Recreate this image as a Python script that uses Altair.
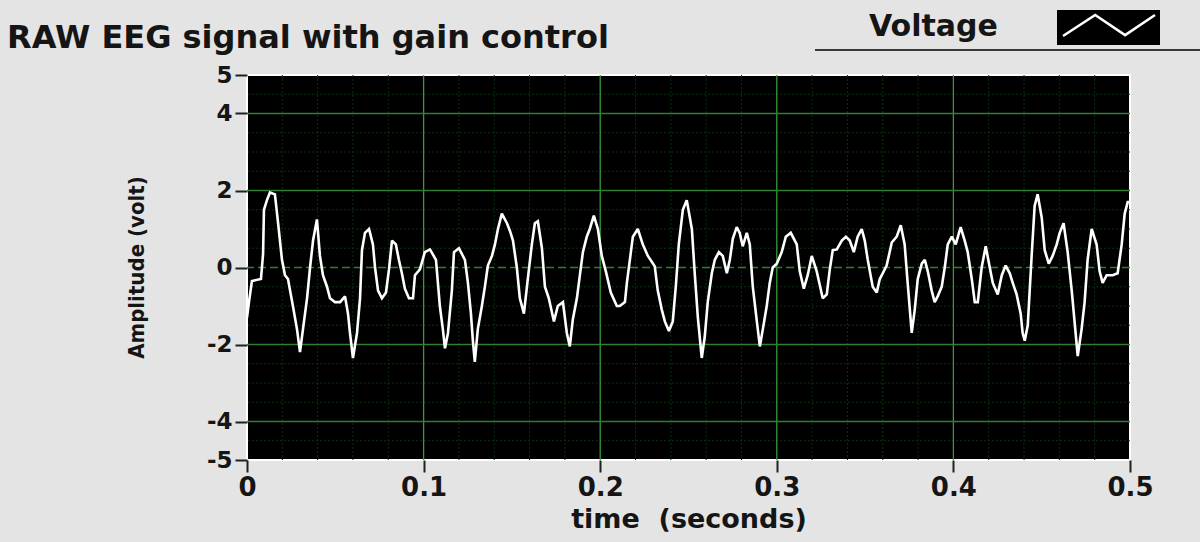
import altair as alt
import pandas as pd

# ---- signal (time in seconds, amplitude in volts) ----
time_s = [
    0.0000, 0.0011, 0.0028, 0.0079, 0.0091, 0.0096, 0.0113, 0.0130, 0.0158, 0.0175,
    0.0198, 0.0215, 0.0232, 0.0260, 0.0283, 0.0300, 0.0317, 0.0340, 0.0357, 0.0374,
    0.0396, 0.0413, 0.0430, 0.0453, 0.0470, 0.0498, 0.0527, 0.0555, 0.0572, 0.0583,
    0.0600, 0.0623, 0.0640, 0.0651, 0.0668, 0.0691, 0.0713, 0.0725, 0.0742, 0.0764,
    0.0787, 0.0804, 0.0821, 0.0843, 0.0860, 0.0877, 0.0894, 0.0917, 0.0940, 0.0951,
    0.0979, 0.1007, 0.1036, 0.1070, 0.1081, 0.1092, 0.1109, 0.1121, 0.1138, 0.1160,
    0.1172, 0.1200, 0.1234, 0.1251, 0.1268, 0.1279, 0.1290, 0.1307, 0.1330, 0.1347,
    0.1364, 0.1387, 0.1404, 0.1421, 0.1443, 0.1472, 0.1489, 0.1506, 0.1528, 0.1545,
    0.1568, 0.1590, 0.1613, 0.1630, 0.1647, 0.1670, 0.1687, 0.1709, 0.1738, 0.1760,
    0.1789, 0.1811, 0.1828, 0.1845, 0.1868, 0.1885, 0.1902, 0.1924, 0.1941, 0.1964,
    0.1987, 0.2009, 0.2032, 0.2060, 0.2094, 0.2111, 0.2140, 0.2151, 0.2168, 0.2185,
    0.2213, 0.2241, 0.2270, 0.2292, 0.2309, 0.2326, 0.2349, 0.2366, 0.2389, 0.2411,
    0.2428, 0.2445, 0.2468, 0.2490, 0.2519, 0.2536, 0.2553, 0.2575, 0.2592, 0.2609,
    0.2632, 0.2649, 0.2672, 0.2694, 0.2717, 0.2734, 0.2751, 0.2773, 0.2790, 0.2807,
    0.2830, 0.2847, 0.2864, 0.2887, 0.2904, 0.2921, 0.2943, 0.2960, 0.2977, 0.3000,
    0.3028, 0.3051, 0.3079, 0.3113, 0.3130, 0.3153, 0.3175, 0.3198, 0.3226, 0.3243,
    0.3260, 0.3283, 0.3300, 0.3317, 0.3340, 0.3368, 0.3391, 0.3413, 0.3436, 0.3458,
    0.3481, 0.3498, 0.3515, 0.3543, 0.3566, 0.3583, 0.3600, 0.3622, 0.3651, 0.3679,
    0.3702, 0.3724, 0.3741, 0.3764, 0.3781, 0.3798, 0.3821, 0.3838, 0.3855, 0.3877,
    0.3894, 0.3911, 0.3934, 0.3951, 0.3968, 0.3991, 0.4013, 0.4041, 0.4064, 0.4081,
    0.4104, 0.4121, 0.4138, 0.4160, 0.4183, 0.4206, 0.4223, 0.4251, 0.4274, 0.4296,
    0.4319, 0.4336, 0.4358, 0.4381, 0.4392, 0.4404, 0.4421, 0.4443, 0.4460, 0.4477,
    0.4500, 0.4517, 0.4540, 0.4562, 0.4585, 0.4602, 0.4624, 0.4647, 0.4670, 0.4687,
    0.4704, 0.4726, 0.4743, 0.4760, 0.4783, 0.4811, 0.4828, 0.4845, 0.4868, 0.4902,
    0.4930, 0.4953, 0.4970, 0.4987, 0.5000,
]
amplitude_v = [
    -1.3, -0.9, -0.35, -0.3, 0.35, 1.5, 1.75, 1.95, 1.9, 1.2,
    0.2, -0.2, -0.3, -1.0, -1.6, -2.2, -1.6, -0.8, 0.0, 0.7,
    1.25, 0.3, -0.2, -0.5, -0.8, -0.9, -0.9, -0.75, -1.2, -1.7,
    -2.35, -1.7, -0.8, 0.45, 0.9, 1.0, 0.6, 0.0, -0.6, -0.8,
    -0.65, -0.05, 0.7, 0.6, 0.2, -0.15, -0.55, -0.8, -0.8, -0.2,
    -0.05, 0.4, 0.47, 0.2, -0.4, -1.0, -1.6, -2.1, -1.7, -0.6,
    0.4, 0.5, 0.2, -0.4, -1.2, -1.9, -2.45, -1.6, -1.0, -0.5,
    0.05, 0.3, 0.6, 1.0, 1.4, 1.15, 0.95, 0.7, 0.0, -0.8,
    -1.2, -0.3, 0.6, 1.15, 1.2, 0.5, -0.5, -0.8, -1.4, -1.0,
    -0.9, -1.7, -2.05, -1.35, -0.8, -0.2, 0.4, 0.8, 1.0, 1.35,
    1.0, 0.3, -0.1, -0.65, -1.0, -1.0, -0.9, -0.4, 0.2, 0.8,
    1.0, 0.6, 0.3, 0.15, 0.03, -0.6, -1.1, -1.4, -1.65, -1.4,
    -0.5, 0.6, 1.5, 1.75, 1.0, -0.2, -1.3, -2.35, -1.8, -0.9,
    -0.15, 0.2, 0.4, 0.3, -0.15, 0.2, 0.75, 1.05, 0.9, 0.55,
    0.9, 0.6, -0.5, -1.4, -2.05, -1.6, -1.0, -0.4, 0.0, 0.1,
    0.4, 0.8, 0.9, 0.6, -0.1, -0.55, -0.2, 0.3, -0.1, -0.45,
    -0.8, -0.7, -0.05, 0.45, 0.47, 0.7, 0.8, 0.7, 0.4, 0.8,
    1.0, 0.7, 0.2, -0.5, -0.65, -0.3, -0.15, 0.05, 0.65, 0.8,
    1.1, 0.6, -0.4, -1.7, -1.1, -0.3, 0.1, 0.2, -0.1, -0.6,
    -0.9, -0.75, -0.5, 0.0, 0.6, 0.8, 0.6, 1.05, 0.7, 0.4,
    -0.3, -0.9, -0.9, 0.0, 0.55, 0.0, -0.4, -0.7, -0.2, 0.05,
    -0.15, -0.4, -0.7, -1.2, -1.7, -1.9, -1.5, 0.3, 1.6, 1.9,
    1.3, 0.45, 0.1, 0.3, 0.6, 0.9, 1.15, 0.4, -0.6, -1.45,
    -2.3, -1.6, -0.9, 0.2, 1.0, 0.6, -0.1, -0.4, -0.2, -0.2,
    -0.15, 0.6, 1.4, 1.7, 1.7,
]

# ---- axes / grid values ----
x_tick_values = [0, 0.1, 0.2, 0.3, 0.4, 0.5]
y_tick_values = [-5, -4, -2, 0, 2, 4, 5]
x_major_grid = [0.1, 0.2, 0.3, 0.4]
x_minor_grid = [0.02, 0.04, 0.06, 0.08, 0.12, 0.14, 0.16, 0.18, 0.22, 0.24, 0.26, 0.28,
                0.32, 0.34, 0.36, 0.38, 0.42, 0.44, 0.46, 0.48]
y_major_grid = [-4, -2, 2, 4]
y_zero_grid = [0]
y_minor_grid = [-4.5, -3.5, -3, -2.5, -1.5, -1, -0.5, 0.5, 1, 1.5, 2.5, 3, 3.5, 4.5]

title_text = ["RAW EEG signal with gain control"]
legend_text = ["Voltage"]
y_title_text = ["Amplitude (volt)"]

FONT = "DejaVu Sans"

xs = alt.Scale(domain=[0, 0.5], nice=False, zero=False)
ys = alt.Scale(domain=[-5, 5], nice=False, zero=False)

x_axis = alt.Axis(values=x_tick_values, labelExpr="datum.value + ''",
                  title="time\u00a0 (seconds)", labelFlush=False, labelOverlap=False)
y_axis = alt.Axis(values=y_tick_values, labelExpr="datum.value + ''", title=None,
                  labelFlush=False, labelOverlap=False)

sig = pd.DataFrame({"t": time_s, "v": amplitude_v})

minor_v = alt.Chart(pd.DataFrame({"t": x_minor_grid})).mark_rule(
    color="#0b300d", strokeWidth=1, strokeDash=[2, 2]
).encode(x=alt.X("t:Q", scale=xs, axis=x_axis))

minor_h = alt.Chart(pd.DataFrame({"v": y_minor_grid})).mark_rule(
    color="#0b300d", strokeWidth=1, strokeDash=[2, 2]
).encode(y=alt.Y("v:Q", scale=ys, axis=y_axis))

major_v = alt.Chart(pd.DataFrame({"t": x_major_grid})).mark_rule(
    color="#3a9a3a", strokeWidth=1.3
).encode(x=alt.X("t:Q", scale=xs, axis=x_axis))

major_h = alt.Chart(pd.DataFrame({"v": y_major_grid})).mark_rule(
    color="#2f7f30", strokeWidth=1.3
).encode(y=alt.Y("v:Q", scale=ys, axis=y_axis))

zero_h = alt.Chart(pd.DataFrame({"v": y_zero_grid})).mark_rule(
    color="#2f7f30", strokeWidth=1.5, strokeDash=[8, 4]
).encode(y=alt.Y("v:Q", scale=ys, axis=y_axis))

signal = alt.Chart(sig).mark_line(
    color="#ffffff", strokeWidth=2.6, strokeJoin="miter", strokeMiterLimit=2
).encode(
    x=alt.X("t:Q", scale=xs, axis=x_axis),
    y=alt.Y("v:Q", scale=ys, axis=y_axis),
    order="t:Q",
)

title_mark = alt.Chart(pd.DataFrame({"s": title_text})).mark_text(
    align="left", baseline="middle", font=FONT, fontSize=32, fontWeight="bold",
    color="#151515"
).encode(text="s:N", x=alt.value(-240), y=alt.value(-37))

legend_label = alt.Chart(pd.DataFrame({"s": legend_text})).mark_text(
    align="left", baseline="middle", font=FONT, fontSize=30, fontWeight="bold",
    color="#151515"
).encode(text="s:N", x=alt.value(622), y=alt.value(-48))

legend_box = alt.Chart(pd.DataFrame({"s": legend_text})).mark_rect(
    color="#000000"
).encode(x=alt.value(810), x2=alt.value(913), y=alt.value(-65), y2=alt.value(-30))

legend_glyph = alt.Chart(pd.DataFrame({"s": legend_text})).mark_point(
    shape="M-1,0.23L-0.3,-0.23L0.35,0.21L1,-0.23",
    size=8464, filled=False, stroke="#ffffff", strokeWidth=2.5, opacity=1
).encode(x=alt.value(862), y=alt.value(-49.5))

legend_rule = alt.Chart(pd.DataFrame({"s": legend_text})).mark_rule(
    color="#3a3a3a", strokeWidth=2
).encode(x=alt.value(568), x2=alt.value(960), y=alt.value(-25))

y_title = alt.Chart(pd.DataFrame({"s": y_title_text})).mark_text(
    align="center", baseline="middle", angle=270,
    font="DejaVu Sans Condensed, Liberation Sans Narrow, DejaVu Sans",
    fontSize=22, fontWeight="bold", color="#151515"
).encode(text="s:N", x=alt.value(-110), y=alt.value(192.5))

chart = alt.layer(
    minor_v, minor_h, major_v, major_h, zero_h, signal,
    title_mark, legend_rule, legend_label, legend_box, legend_glyph, y_title
).properties(
    width=883, height=385,
    autosize=alt.AutoSizeParams(type="none"),
    padding={"left": 247, "top": 75, "right": 70, "bottom": 82},
    background="#e4e4e4",
).configure_view(
    fill="#000000", stroke="#ffffff", strokeWidth=2
).configure_axis(
    domain=False, grid=False,
    labelFont=FONT, labelFontWeight="bold", labelColor="#151515",
    tickColor="#202020", tickWidth=2,
    titleFont=FONT, titleFontWeight="bold", titleColor="#151515",
).configure_axisX(
    labelFontSize=26, tickSize=12, labelPadding=2, titleFontSize=27, titlePadding=6,
).configure_axisY(
    labelFontSize=23, tickSize=12, labelPadding=3,
)

chart.save("out.html", embed_options={"renderer": "svg", "actions": False})
